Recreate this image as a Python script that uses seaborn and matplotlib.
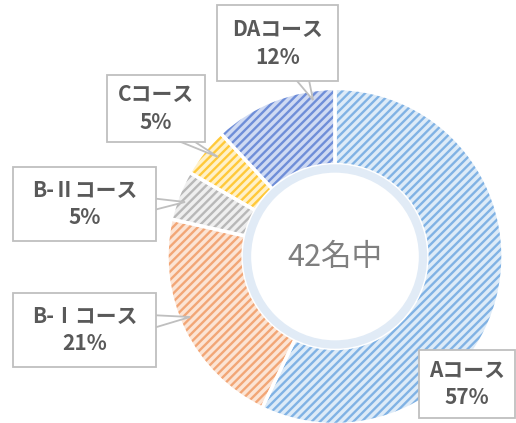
import matplotlib
matplotlib.use("Agg")
import matplotlib.pyplot as plt
import seaborn as sns
from matplotlib.patches import Rectangle, Polygon, Circle

# ---- data ----
courses = ["Aコース", "B-Ⅰコース", "B-Ⅱコース", "Cコース", "DAコース"]
counts = [24, 9, 2, 2, 5]
pct_labels = ["57%", "21%", "5%", "5%", "12%"]
center_text = "42名中"

stripe_colors = ["#80B2E4", "#F2A676", "#B8B8B8", "#FFC93A", "#6F8ED8"]
face_colors = ["#DDEBF8", "#FCE4D4", "#EFEFEF", "#FFF1C8", "#CFDAF3"]

sns.set_theme(style="white")
plt.rcParams["font.family"] = ["Noto Sans CJK JP", "DejaVu Sans"]
plt.rcParams["hatch.linewidth"] = 1.7

W, H = 516, 423
fig = plt.figure(figsize=(W / 100, H / 100), dpi=100)
ax = fig.add_axes([0, 0, 1, 1])

cx, cy, R, ring_w = 335, 256.5, 168, 76

# hatched wedges (y axis inverted -> counterclock=True draws clockwise on screen)
wedges, _ = ax.pie(counts, startangle=-90, counterclock=True,
                   center=(cx, cy), radius=R, frame=True,
                   colors=face_colors,
                   wedgeprops=dict(width=ring_w, linewidth=0))
for w, sc in zip(wedges, stripe_colors):
    w.set_edgecolor(sc)
    w.set_hatch("////")
    w.set_linewidth(0)
# white separators
ax.pie(counts, startangle=-90, counterclock=True,
       center=(cx, cy), radius=R, frame=True,
       wedgeprops=dict(width=ring_w, fill=False,
                       edgecolor="white", linewidth=2.4))
ax.set_xlim(0, W)
ax.set_ylim(H, 0)
ax.set_aspect("equal")
ax.axis("off")

# inner ring
ax.add_patch(Circle((cx, cy), 88, facecolor="white", edgecolor="#E1EBF6",
                    linewidth=6, zorder=3))
ax.text(cx, cy + 1, center_text, ha="center", va="center", fontsize=22,
        color="#7F7F7F", zorder=4)

# callout boxes: (x0, y0, x1, y1), pointer base pts, tip
boxes = [
    ((419, 350, 515, 418), None, None),
    ((13, 293, 156, 367), [(150, 315), (150, 329)], (190, 317)),
    ((13, 167, 156, 241), [(150, 198), (150, 211)], (185, 202)),
    ((107, 75, 205, 142), [(166, 136), (186, 136)], (218, 157)),
    ((217, 5, 338, 81), [(292, 75), (308, 75)], (313, 100)),
]
gray = "#BFBFBF"
for (bx, pts, tip), name, pct in zip(boxes, courses, pct_labels):
    x0, y0, x1, y1 = bx
    if pts is not None:
        ax.add_patch(Polygon([pts[0], tip, pts[1]], closed=True,
                             facecolor="white", edgecolor=gray,
                             linewidth=1.3, zorder=5))
    ax.add_patch(Rectangle((x0, y0), x1 - x0, y1 - y0, facecolor="white",
                           edgecolor=gray, linewidth=1.3, zorder=6))
    mx = (x0 + x1) / 2
    my = (y0 + y1) / 2
    ax.text(mx, my - 14, name, ha="center", va="center", fontsize=15,
            fontweight="bold", color="#595959", zorder=7)
    ax.text(mx, my + 14, pct, ha="center", va="center", fontsize=15,
            fontweight="bold", color="#595959", zorder=7)

fig.savefig("out.png", dpi=100, facecolor="white")
